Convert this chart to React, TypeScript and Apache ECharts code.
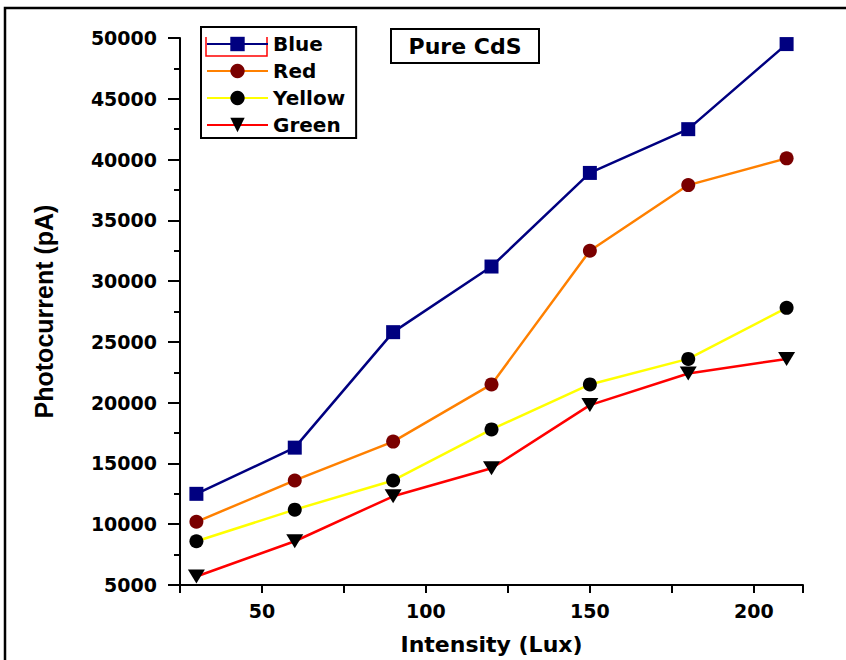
import React, { useEffect, useRef } from "react";
import * as echarts from "echarts";

const intensity = [30, 60, 90, 120, 150, 180, 210];
const blueValues = [12500, 16300, 25800, 31200, 38900, 42500, 49500];
const redValues = [10200, 13600, 16800, 21500, 32500, 37900, 40100];
const yellowValues = [8600, 11200, 13600, 17800, 21500, 23600, 27800];
const greenValues = [5700, 8600, 12300, 14600, 19800, 22400, 23600];
const seriesNames = ["Blue", "Red", "Yellow", "Green"];
const xTickLabels = [50, 100, 150, 200];

const pair = (vals: number[]) => intensity.map((x, i) => [x, vals[i]]);

export default function App() {
  const ref = useRef<HTMLDivElement>(null);
  useEffect(() => {
    if (!ref.current) return;
    const chart = echarts.init(ref.current, undefined, { renderer: "svg" });
    const labelFont = {
      fontFamily: "DejaVu Sans",
      fontWeight: "bold" as const,
      fontSize: 19,
      color: "#000",
    };
    chart.setOption({
      animation: false,
      backgroundColor: "#fff",
      grid: { left: 180, right: 43, top: 38, bottom: 75 },
      legend: {
        orient: "vertical",
        left: 201,
        top: 27,
        padding: [7, 11, 3, 5],
        itemGap: 7,
        itemWidth: 61,
        itemHeight: 18,
        borderColor: "#000",
        borderWidth: 2,
        data: seriesNames,
        textStyle: {
          fontFamily: "DejaVu Sans",
          fontWeight: "bold",
          fontSize: 20,
          color: "#000",
        },
      },
      xAxis: {
        type: "value",
        min: 25,
        max: 215,
        interval: 25,
        name: "Intensity (Lux)",
        nameLocation: "middle",
        nameGap: 48,
        nameTextStyle: {
          fontFamily: "DejaVu Sans",
          fontWeight: "bold",
          fontSize: 22,
          color: "#000",
        },
        axisLine: { show: true, onZero: false, lineStyle: { color: "#000", width: 2 } },
        axisTick: { show: true, inside: false, length: 8, lineStyle: { color: "#000", width: 2 } },
        splitLine: { show: false },
        axisLabel: {
          ...labelFont,
          margin: 16,
          formatter: (v: number) => (xTickLabels.includes(v) ? String(v) : ""),
        },
      },
      yAxis: {
        type: "value",
        min: 5000,
        max: 50000,
        interval: 5000,
        name: "Photocurrent (pA)",
        nameLocation: "middle",
        nameGap: 124,
        nameTextStyle: {
          fontFamily: "Liberation Sans",
          fontWeight: "bold",
          fontSize: 25,
          color: "#000",
        },
        axisLine: { show: true, lineStyle: { color: "#000", width: 2 } },
        axisTick: { show: true, inside: false, length: 12, lineStyle: { color: "#000", width: 2 } },
        minorTick: { show: true, splitNumber: 2, length: 6, lineStyle: { color: "#000", width: 2 } },
        splitLine: { show: false },
        axisLabel: { ...labelFont, margin: 23, formatter: (v: number) => String(v) },
      },
      series: [
        {
          name: "Blue",
          type: "line",
          data: pair(blueValues),
          symbol: "rect",
          symbolSize: 14,
          lineStyle: { color: "#000080", width: 2.5 },
          itemStyle: { color: "#000080" },
        },
        {
          name: "Red",
          type: "line",
          data: pair(redValues),
          symbol: "circle",
          symbolSize: 14,
          lineStyle: { color: "#ff8000", width: 2.5 },
          itemStyle: { color: "#7a0000" },
        },
        {
          name: "Yellow",
          type: "line",
          data: pair(yellowValues),
          symbol: "circle",
          symbolSize: 14,
          lineStyle: { color: "#ffff00", width: 2.5 },
          itemStyle: { color: "#000" },
        },
        {
          name: "Green",
          type: "line",
          data: pair(greenValues),
          symbol: "triangle",
          symbolRotate: 180,
          symbolSize: [17, 14],
          lineStyle: { color: "#ff0000", width: 2.5 },
          itemStyle: { color: "#000" },
        },
      ],
      graphic: [
        {
          type: "rect",
          shape: { x: 5, y: 8, width: 900, height: 700 },
          style: { fill: "none", stroke: "#000", lineWidth: 2.5 },
          silent: true,
        },
        {
          type: "polyline",
          shape: { points: [[206, 37], [206, 56], [267, 56], [267, 37]] },
          style: { fill: "none", stroke: "#ff0000", lineWidth: 1.5 },
          silent: true,
        },
        {
          type: "rect",
          shape: { x: 391, y: 29, width: 148, height: 34 },
          style: { fill: "#fff", stroke: "#000", lineWidth: 2 },
        },
        {
          type: "text",
          x: 465,
          y: 46,
          style: {
            text: "Pure CdS",
            fontFamily: "DejaVu Sans",
            fontWeight: "bold",
            fontSize: 22,
            fill: "#000",
            align: "center",
            verticalAlign: "middle",
          },
        },
      ],
    });
    return () => chart.dispose();
  }, []);
  return (
    <div
      ref={ref}
      style={{ position: "fixed", left: 0, top: 0, width: 846, height: 660 }}
    />
  );
}
